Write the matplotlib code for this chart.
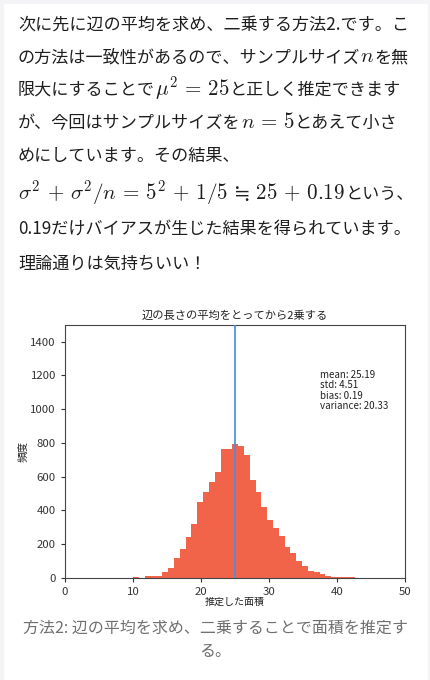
import numpy as np
import matplotlib
matplotlib.use('Agg')
import matplotlib.pyplot as plt
from matplotlib.patches import Rectangle

plt.rcParams['font.family'] = ['Noto Sans CJK JP', 'DejaVu Sans']
plt.rcParams['mathtext.fontset'] = 'cm'

W, H = 431, 680
TEXT_FS = 12.3
MATH_FS = 15.2
INK = '#1e1e1e'

# body text: (text, is_math) per line
body_lines = [
    [('次に先に辺の平均を求め、二乗する方法2.です。こ', False)],
    [('の方法は一致性があるので、サンプルサイズ', False), (r'n', True), ('を無', False)],
    [('限大にすることで', False), (r'\mu^2\,=\,25', True), ('と正しく推定できます', False)],
    [('が、今回はサンプルサイズを', False), (r'n\,=\,5', True), ('とあえて小さ', False)],
    [('めにしています。その結果、', False)],
    [(r'\sigma^2\,+\,\sigma^2/n\,=\,5^2\,+\,1/5\,\fallingdotseq\,25\,+\,0.19', True),
     ('という、', False)],
    [('0.19だけバイアスが生じた結果を得られています。', False)],
    [('理論通りは気持ちいい！', False)],
]
body_baselines = [30, 62, 95, 128, 161, 199, 235, 269]

# histogram
bin_start = 10.02
bin_width = 0.857
counts = [3, 0, 8, 10, 12, 35, 55, 118, 172, 239, 318, 448, 507, 568, 629,
          765, 765, 795, 780, 725, 582, 507, 422, 341, 296, 247, 183, 144,
          101, 71, 41, 32, 22, 12, 6, 5, 4, 3]
true_area = 25
stats = {'mean': 25.19, 'std': 4.51, 'bias': 0.19, 'variance': 20.33}

fig = plt.figure(figsize=(W / 100, H / 100), dpi=100)
fig.patch.set_facecolor('white')
renderer = fig.canvas.get_renderer()

# faint page border
for (x, y, w, h) in [(0, 0, 3, H), (W - 3, 0, 3, H), (0, H - 3, W, 3)]:
    fig.patches.append(Rectangle((x / W, y / H), w / W, h / H, transform=fig.transFigure,
                                 color='#f4f4f7', zorder=0))


def put_line(segs, x0, base):
    x = x0
    for s, is_math in segs:
        if is_math:
            t = fig.text(x / W, 1 - base / H, '$' + s + '$', fontsize=MATH_FS,
                         color=INK, va='baseline', ha='left')
        else:
            t = fig.text(x / W, 1 - base / H, s, fontsize=TEXT_FS, color=INK,
                         va='baseline', ha='left')
        x += t.get_window_extent(renderer).width


for segs, b in zip(body_lines, body_baselines):
    put_line(segs, 18, b)

# chart
ax = fig.add_axes([65 / W, 1 - 577.7 / H, 340 / W, 253 / H])
edges = bin_start + bin_width * np.arange(len(counts) + 1)
ax.bar(edges[:-1], counts, width=bin_width, align='edge', color='#f2644a', zorder=2)
ax.axvline(true_area, color='#4a8ee0', lw=1.5, alpha=0.85, zorder=3)
ax.set_xlim(0, 50)
ax.set_ylim(0, 1500)
ax.set_xticks(range(0, 51, 10))
ax.set_yticks(range(0, 1401, 200))
ax.tick_params(labelsize=8.2, colors='#333333', length=3, width=0.8)
for sp in ax.spines.values():
    sp.set_color('#444444')
    sp.set_linewidth(0.8)
ax.set_title('辺の長さの平均をとってから2乗する', fontsize=8.1, color='#222222', pad=4)
ax.set_xlabel('推定した面積', fontsize=7.2, color='#222222', labelpad=0)
ax.set_ylabel('頻度', fontsize=7.6, color='#222222', labelpad=2)
ax.text(37.5, 1000, '\n'.join(f'{k}: {v:.2f}' for k, v in stats.items()),
        fontsize=7.0, color='#222222', va='baseline', linespacing=1.05)

# caption
fig.text(215.5 / W, 1 - 633 / H, '方法2: 辺の平均を求め、二乗することで面積を推定す',
         fontsize=11.5, color='#707070', ha='center', va='baseline')
fig.text(215.5 / W, 1 - 656 / H, 'る。', fontsize=11.5, color='#707070', ha='center', va='baseline')

fig.savefig('out.png', dpi=100)
